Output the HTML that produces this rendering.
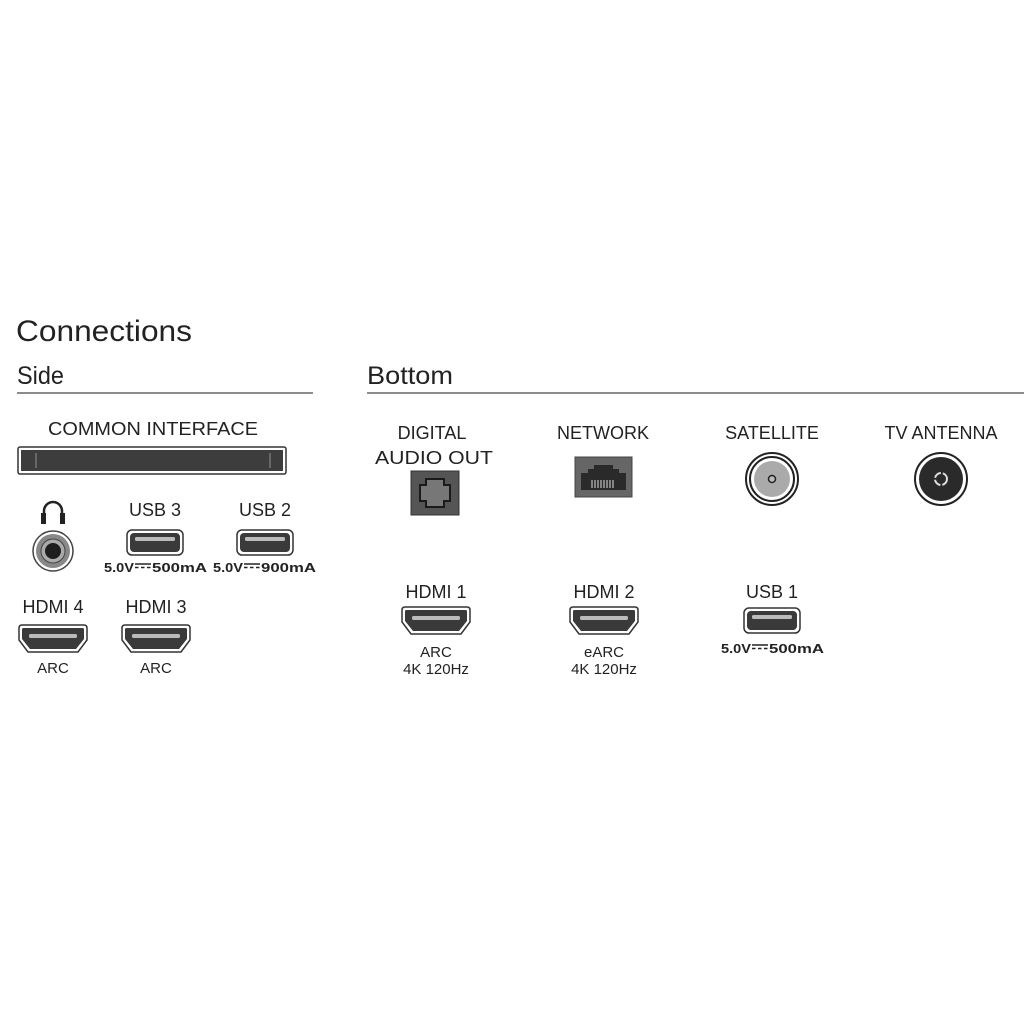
<!DOCTYPE html>
<html><head><meta charset="utf-8"><style>
html,body{margin:0;padding:0;background:#fff;}
svg{display:block;}
text{font-family:"Liberation Sans","DejaVu Sans",sans-serif;fill:#222;}
</style></head><body>
<svg width="1024" height="1024" viewBox="0 0 1024 1024" xmlns="http://www.w3.org/2000/svg">
<defs>
  <g id="usb">
    <rect x="0" y="0" width="56" height="25" rx="5" fill="#fff" stroke="#333" stroke-width="1.5"/>
    <rect x="3" y="3" width="50" height="19" rx="4" fill="#3a3a3a"/>
    <rect x="8" y="7" width="40" height="4" rx="1.5" fill="#bbb"/>
  </g>
  <g id="hdmi">
    <path d="M1,4 Q1,1 4,1 H66 Q69,1 69,4 V16 L60,28 H10 L1,16 Z" fill="#fff" stroke="#333" stroke-width="1.5"/>
    <path d="M4,5 Q4,4 6,4 H64 Q66,4 66,5 V15 L58,25 H12 L4,15 Z" fill="#3a3a3a"/>
    <rect x="11" y="10" width="48" height="4" rx="1.5" fill="#bbb"/>
  </g>
  <g id="dc">
    <line x1="0" y1="-8" x2="16" y2="-8" stroke="#222" stroke-width="1.5"/>
    <line x1="0" y1="-4.5" x2="16" y2="-4.5" stroke="#222" stroke-width="1.5" stroke-dasharray="3.5 2.5"/>
  </g>
</defs>

<text x="16" y="341" font-size="30" textLength="176" lengthAdjust="spacingAndGlyphs" fill="#333">Connections</text>
<text x="17" y="384" font-size="25" textLength="47" lengthAdjust="spacingAndGlyphs" fill="#333">Side</text>
<line x1="17" y1="393" x2="313" y2="393" stroke="#666" stroke-width="1.5"/>
<text x="367" y="384" font-size="25" textLength="86" lengthAdjust="spacingAndGlyphs" fill="#333">Bottom</text>
<line x1="367" y1="393" x2="1024" y2="393" stroke="#666" stroke-width="1.5"/>

<!-- Side -->
<text x="153" y="435" font-size="18.5" text-anchor="middle" textLength="210" lengthAdjust="spacingAndGlyphs">COMMON INTERFACE</text>
<rect x="18" y="447" width="268" height="27" rx="2" fill="#fff" stroke="#333" stroke-width="1.5"/>
<rect x="21" y="450" width="262" height="21" fill="#3d3d3d"/>
<path d="M36,453 V468 M270,453 V468" stroke="#777" stroke-width="1.5"/>

<path d="M44,522 V511 A9,9 0 0 1 62,511 V522" fill="none" stroke="#222" stroke-width="2.5"/>
<rect x="41" y="513" width="5" height="11" fill="#222"/>
<rect x="60" y="513" width="5" height="11" fill="#222"/>
<circle cx="53" cy="551" r="20" fill="#fff" stroke="#444" stroke-width="1.5"/>
<circle cx="53" cy="551" r="17" fill="#888"/>
<circle cx="53" cy="551" r="12" fill="#aaa" stroke="#444" stroke-width="1"/>
<circle cx="53" cy="551" r="8" fill="#1e1e1e"/>

<text x="155" y="516" font-size="18" text-anchor="middle">USB 3</text>
<use href="#usb" x="127" y="530"/>
<text x="104" y="572" font-size="13" font-weight="bold" textLength="30" lengthAdjust="spacingAndGlyphs">5.0V</text>
<use href="#dc" x="135" y="572"/>
<text x="152" y="572" font-size="13" font-weight="bold" textLength="55" lengthAdjust="spacingAndGlyphs">500mA</text>

<text x="265" y="516" font-size="18" text-anchor="middle">USB 2</text>
<use href="#usb" x="237" y="530"/>
<text x="213" y="572" font-size="13" font-weight="bold" textLength="30" lengthAdjust="spacingAndGlyphs">5.0V</text>
<use href="#dc" x="244" y="572"/>
<text x="261" y="572" font-size="13" font-weight="bold" textLength="55" lengthAdjust="spacingAndGlyphs">900mA</text>

<text x="53" y="613" font-size="18" text-anchor="middle">HDMI 4</text>
<use href="#hdmi" x="18" y="624"/>
<text x="53" y="673" font-size="15" text-anchor="middle">ARC</text>
<text x="156" y="613" font-size="18" text-anchor="middle">HDMI 3</text>
<use href="#hdmi" x="121" y="624"/>
<text x="156" y="673" font-size="15" text-anchor="middle">ARC</text>

<!-- Bottom -->
<text x="432" y="439" font-size="18" text-anchor="middle">DIGITAL</text>
<text x="434" y="464" font-size="18" text-anchor="middle" textLength="118" lengthAdjust="spacingAndGlyphs">AUDIO OUT</text>
<rect x="411" y="471" width="48" height="44" fill="#555" stroke="#333" stroke-width="1"/>
<path d="M426,479 H444 V485 H450 V501 H444 V507 H426 V501 H420 V485 H426 Z" fill="#777" stroke="#1a1a1a" stroke-width="2"/>

<text x="603" y="439" font-size="18" text-anchor="middle">NETWORK</text>
<rect x="575" y="457" width="57" height="40" fill="#666" stroke="#444" stroke-width="1"/>
<path d="M581,490 V473 H588 V469 H594 V465 H613 V469 H619 V473 H626 V490 Z" fill="#2a2a2a"/>
<path d="M592,480 V488 M595,480 V488 M598,480 V488 M601,480 V488 M604,480 V488 M607,480 V488 M610,480 V488 M613,480 V488" stroke="#ddd" stroke-width="1"/>

<text x="772" y="439" font-size="18" text-anchor="middle">SATELLITE</text>
<circle cx="772" cy="479" r="26" fill="#fff" stroke="#222" stroke-width="2"/>
<circle cx="772" cy="479" r="22" fill="#fff" stroke="#222" stroke-width="2"/>
<circle cx="772" cy="479" r="18" fill="#aaa"/>
<circle cx="772" cy="479" r="3.5" fill="#bbb" stroke="#222" stroke-width="1.5"/>

<text x="941" y="439" font-size="18" text-anchor="middle">TV ANTENNA</text>
<circle cx="941" cy="479" r="26" fill="#fff" stroke="#222" stroke-width="2"/>
<circle cx="941" cy="479" r="22" fill="#2a2a2a"/>
<circle cx="941" cy="479" r="6" fill="none" stroke="#ddd" stroke-width="2" stroke-dasharray="8 2"/>

<text x="436" y="598" font-size="18" text-anchor="middle">HDMI 1</text>
<use href="#hdmi" x="401" y="606"/>
<text x="436" y="657" font-size="15" text-anchor="middle">ARC</text>
<text x="436" y="674" font-size="15" text-anchor="middle">4K 120Hz</text>

<text x="604" y="598" font-size="18" text-anchor="middle">HDMI 2</text>
<use href="#hdmi" x="569" y="606"/>
<text x="604" y="657" font-size="15" text-anchor="middle">eARC</text>
<text x="604" y="674" font-size="15" text-anchor="middle">4K 120Hz</text>

<text x="772" y="598" font-size="18" text-anchor="middle">USB 1</text>
<use href="#usb" x="744" y="608"/>
<text x="721" y="653" font-size="13" font-weight="bold" textLength="30" lengthAdjust="spacingAndGlyphs">5.0V</text>
<use href="#dc" x="752" y="653"/>
<text x="769" y="653" font-size="13" font-weight="bold" textLength="55" lengthAdjust="spacingAndGlyphs">500mA</text>
</svg>
</body></html>
